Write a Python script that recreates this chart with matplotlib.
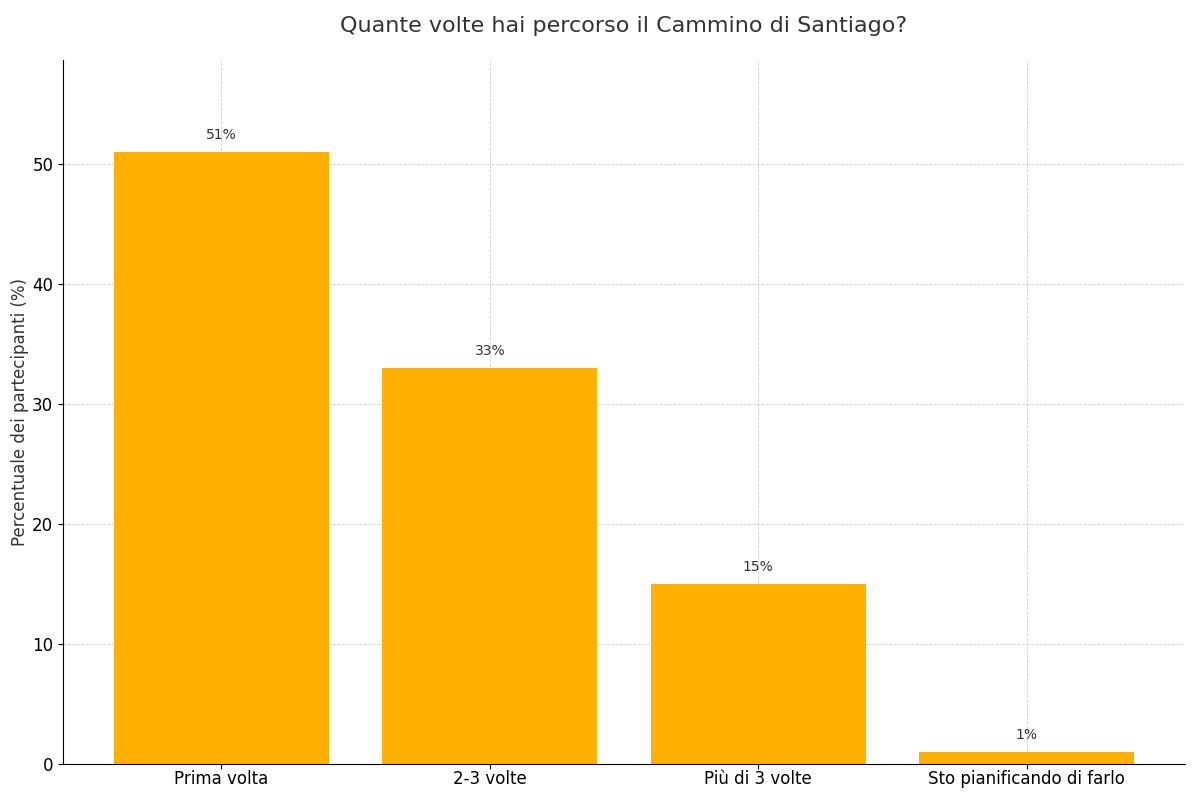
import matplotlib.pyplot as plt

categories = ['Prima volta', '2-3 volte', 'Più di 3 volte', 'Sto pianificando di farlo']
values = [51, 33, 15, 1]

fig, ax = plt.subplots(figsize=(12, 8), dpi=100)
bars = ax.bar(categories, values, color='#FFB000', width=0.8, zorder=2)
for b, v in zip(bars, values):
    ax.text(b.get_x() + b.get_width() / 2, v + 0.8, f'{v}%', ha='center', va='bottom',
            fontsize=10, color='#333333')

ax.set_ylim(0, max(values) * 1.15)
ax.set_ylabel('Percentuale dei partecipanti (%)', fontsize=12, color='#333333', labelpad=2)
ax.set_title('Quante volte hai percorso il Cammino di Santiago?', fontsize=16, color='#333333', pad=20)
ax.grid(True, linestyle='--', linewidth=0.6, color='#cccccc', zorder=0)
ax.spines['top'].set_visible(False)
ax.spines['right'].set_visible(False)
ax.tick_params(labelsize=12)
ax.tick_params(axis='x', pad=1)
plt.subplots_adjust(left=0.0525, right=0.9875, top=0.925, bottom=0.045)
plt.savefig('out.png')
